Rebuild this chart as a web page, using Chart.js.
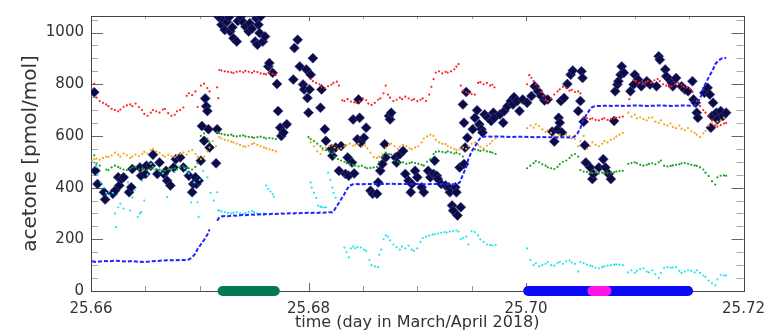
<!DOCTYPE html>
<html>
<head>
<meta charset="utf-8">
<script src="https://cdn.jsdelivr.net/npm/chart.js@4"></script>
<style>
  body { margin: 0; background: #fff; }
  canvas { display: block; }
</style>
</head>
<body>
<canvas id="acetoneChart" width="774" height="332"></canvas>
<script>
// acetone mixing ratios [time (day), pmol/mol]
const acetonePtr = [
  [25.6603, 769], [25.6604, 465], [25.6606, 414], [25.6612, 382], [25.6613, 354], [25.6620, 376], [25.6622, 388],
  [25.6625, 440], [25.6626, 408], [25.6628, 433], [25.6630, 440], [25.6635, 382], [25.6637, 401], [25.6638, 472],
  [25.6646, 446], [25.6645, 478], [25.6650, 453], [25.6651, 485], [25.6655, 485], [25.6657, 527], [25.6661, 453],
  [25.6663, 497], [25.6667, 453], [25.6669, 465], [25.6670, 427], [25.6673, 408], [25.6676, 478], [25.6678, 510],
  [25.6682, 517], [25.6685, 478], [25.6690, 446], [25.6693, 382], [25.6694, 414], [25.6696, 440], [25.6697, 414],
  [25.6699, 427], [25.6701, 504], [25.6702, 638], [25.6704, 581], [25.6705, 745], [25.6706, 715], [25.6707, 696],
  [25.6708, 626], [25.6709, 555], [25.6716, 626], [25.6715, 494],
  [25.6717, 1062], [25.6719, 1055], [25.6720, 1030], [25.6722, 1048], [25.6723, 1010], [25.6725, 1042], [25.6727, 1060],
  [25.6728, 1004], [25.6730, 1020], [25.6731, 978], [25.6734, 965], [25.6735, 1045], [25.6738, 1062], [25.6740, 1040],
  [25.6742, 1023], [25.6745, 1004], [25.6746, 1036], [25.6748, 1015], [25.6751, 965], [25.6752, 1055], [25.6753, 953],
  [25.6754, 1030], [25.6755, 998], [25.6756, 1062], [25.6758, 965], [25.6760, 985], [25.6763, 869], [25.6764, 882],
  [25.6767, 844], [25.6771, 801], [25.6772, 696], [25.6774, 632], [25.6775, 600], [25.6777, 613], [25.6780, 645],
  [25.6786, 818], [25.6787, 940], [25.6790, 972], [25.6792, 869], [25.6795, 799], [25.6796, 780], [25.6798, 857],
  [25.6799, 747], [25.6801, 780], [25.6800, 690], [25.6802, 837], [25.6804, 901],
  [25.6811, 709], [25.6812, 780], [25.6815, 626], [25.6816, 581], [25.6821, 549], [25.6822, 523], [25.6825, 555],
  [25.6828, 465], [25.6830, 561], [25.6834, 453], [25.6836, 517], [25.6837, 446], [25.6840, 497], [25.6841, 664],
  [25.6842, 455], [25.6845, 587], [25.6846, 741], [25.6847, 670], [25.6848, 574], [25.6851, 593], [25.6853, 632],
  [25.6857, 388], [25.6859, 376], [25.6863, 376], [25.6864, 420], [25.6866, 465], [25.6868, 491], [25.6871, 517],
  [25.6870, 568], [25.6874, 677], [25.6875, 664], [25.6876, 690], [25.6880, 517], [25.6881, 497], [25.6884, 529],
  [25.6887, 542], [25.6889, 453], [25.6892, 427], [25.6894, 382], [25.6895, 414], [25.6898, 465],
  [25.6900, 440], [25.6904, 401], [25.6906, 382], [25.6910, 465], [25.6912, 440], [25.6915, 453], [25.6916, 504],
  [25.6918, 446], [25.6919, 433], [25.6922, 414], [25.6926, 408], [25.6929, 401], [25.6930, 382], [25.6932, 331],
  [25.6933, 311], [25.6935, 401], [25.6936, 382], [25.6937, 292], [25.6939, 478], [25.6940, 324], [25.6942, 722],
  [25.6943, 651], [25.6944, 555], [25.6943, 491], [25.6945, 770], [25.6946, 593], [25.6951, 626], [25.6953, 670],
  [25.6955, 699], [25.6957, 645], [25.6959, 626], [25.6960, 613], [25.6962, 683], [25.6965, 670], [25.6968, 658],
  [25.6970, 690], [25.6971, 670], [25.6976, 683], [25.6979, 651], [25.6980, 696], [25.6983, 715], [25.6986, 735],
  [25.6988, 722], [25.6989, 750], [25.6992, 735], [25.6994, 696], [25.6997, 741],
  [25.7001, 728], [25.7005, 754], [25.7008, 792], [25.7011, 773], [25.7014, 754], [25.7017, 737], [25.7020, 741],
  [25.7024, 617], [25.7026, 578], [25.7029, 626], [25.7030, 670], [25.7032, 735], [25.7031, 651], [25.7033, 613],
  [25.7035, 747], [25.7038, 801], [25.7041, 837], [25.7043, 853], [25.7048, 696], [25.7050, 735], [25.7051, 850],
  [25.7052, 824], [25.7053, 655], [25.7054, 564], [25.7055, 497], [25.7059, 478], [25.7061, 433], [25.7062, 453],
  [25.7067, 478], [25.7071, 510], [25.7073, 478], [25.7076, 453], [25.7078, 433], [25.7081, 658], [25.7082, 773],
  [25.7084, 799], [25.7085, 812], [25.7087, 837], [25.7088, 869], [25.7090, 844], [25.7096, 773], [25.7099, 799],
  [25.7100, 837], [25.7103, 818], [25.7106, 792], [25.7111, 812], [25.7114, 799], [25.7120, 792], [25.7122, 908],
  [25.7123, 895], [25.7128, 857], [25.7129, 831], [25.7132, 818], [25.7134, 805], [25.7135, 792], [25.7138, 824],
  [25.7143, 792], [25.7146, 780], [25.7149, 773], [25.7153, 812], [25.7154, 741], [25.7156, 728], [25.7157, 690],
  [25.7158, 670], [25.7164, 767], [25.7167, 786], [25.7169, 760], [25.7170, 632], [25.7172, 728], [25.7171, 677],
  [25.7175, 690], [25.7176, 664], [25.7179, 696], [25.7181, 677], [25.7184, 690]
];

const acetoneRed = [
  [25.6603, 801], [25.6605, 748], [25.6608, 735], [25.6611, 728], [25.6614, 722], [25.6616, 715], [25.6619, 705],
  [25.6622, 700], [25.6625, 695], [25.6627, 702], [25.6630, 712], [25.6633, 718], [25.6636, 722], [25.6638, 715],
  [25.6641, 725], [25.6644, 712], [25.6647, 700], [25.6649, 685], [25.6652, 678], [25.6655, 690], [25.6657, 700],
  [25.6660, 695], [25.6663, 690], [25.6666, 702], [25.6668, 705], [25.6671, 688], [25.6674, 678], [25.6677, 682],
  [25.6679, 695], [25.6682, 700], [25.6685, 710], [25.6688, 755], [25.6690, 765], [25.6693, 758], [25.6696, 772],
  [25.6698, 712], [25.6701, 795], [25.6704, 802], [25.6707, 785], [25.6709, 772], [25.6716, 788], [25.6717, 746],
  [25.6718, 855], [25.6720, 853], [25.6723, 850], [25.6726, 848], [25.6729, 846], [25.6731, 843], [25.6734, 848],
  [25.6737, 850], [25.6740, 846], [25.6742, 852], [25.6745, 848], [25.6748, 844], [25.6750, 850], [25.6753, 847],
  [25.6756, 842], [25.6759, 840], [25.6761, 838], [25.6764, 845], [25.6767, 840], [25.6770, 836],
  [25.6802, 820], [25.6804, 812], [25.6807, 805], [25.6810, 800], [25.6812, 790], [25.6815, 785], [25.6818, 792],
  [25.6821, 798], [25.6823, 805], [25.6826, 810], [25.6828, 795], [25.6831, 738], [25.6833, 735], [25.6836, 742],
  [25.6839, 733], [25.6842, 730], [25.6844, 728], [25.6847, 735], [25.6850, 745], [25.6853, 738], [25.6855, 725],
  [25.6858, 720], [25.6861, 728], [25.6864, 740], [25.6866, 745], [25.6869, 765], [25.6871, 795], [25.6873, 760],
  [25.6875, 748], [25.6878, 735], [25.6881, 740], [25.6884, 748], [25.6886, 742], [25.6889, 752], [25.6892, 745],
  [25.6895, 738], [25.6897, 742], [25.6900, 735], [25.6903, 740], [25.6905, 745], [25.6908, 735], [25.6911, 760],
  [25.6913, 790], [25.6915, 820], [25.6917, 845], [25.6920, 850], [25.6923, 842], [25.6926, 848], [25.6928, 845],
  [25.6931, 850], [25.6934, 858], [25.6936, 868], [25.6938, 878], [25.6940, 795], [25.6942, 775], [25.6945, 770],
  [25.6947, 765], [25.6950, 762], [25.6953, 760], [25.6956, 805], [25.6958, 808], [25.6961, 800], [25.6964, 805],
  [25.6967, 795], [25.6969, 798], [25.6971, 788],
  [25.7001, 800], [25.7003, 835], [25.7005, 825], [25.7007, 812], [25.7009, 800], [25.7012, 785], [25.7014, 770],
  [25.7016, 755], [25.7018, 740], [25.7020, 735], [25.7023, 745], [25.7026, 760], [25.7029, 772], [25.7031, 780],
  [25.7034, 790], [25.7037, 785], [25.7040, 775], [25.7042, 778], [25.7045, 770], [25.7048, 772], [25.7050, 765],
  [25.7053, 672], [25.7056, 668], [25.7059, 665], [25.7061, 668], [25.7064, 662], [25.7067, 660], [25.7070, 665],
  [25.7072, 668], [25.7075, 662], [25.7078, 665], [25.7081, 668], [25.7083, 670], [25.7086, 672], [25.7089, 675],
  [25.7095, 742], [25.7099, 815], [25.7101, 812], [25.7104, 805], [25.7107, 800], [25.7110, 808], [25.7112, 812],
  [25.7115, 805], [25.7118, 815], [25.7121, 820], [25.7123, 812], [25.7126, 800], [25.7129, 795], [25.7132, 790],
  [25.7134, 792], [25.7137, 800], [25.7140, 805], [25.7143, 798], [25.7145, 790], [25.7148, 788], [25.7151, 782],
  [25.7153, 770], [25.7157, 735], [25.7160, 715], [25.7163, 700], [25.7165, 690], [25.7168, 680], [25.7171, 660],
  [25.7174, 640], [25.7176, 636], [25.7179, 642], [25.7182, 648], [25.7184, 650]
];

const acetoneOrange = [
  [25.6601, 505], [25.6603, 510], [25.6605, 512], [25.6608, 508], [25.6611, 515], [25.6614, 520], [25.6616, 518],
  [25.6619, 525], [25.6622, 535], [25.6625, 528], [25.6627, 520], [25.6630, 532], [25.6633, 525], [25.6636, 515],
  [25.6638, 520], [25.6641, 528], [25.6644, 522], [25.6647, 530], [25.6649, 538], [25.6652, 532], [25.6655, 545],
  [25.6657, 550], [25.6660, 540], [25.6663, 535], [25.6666, 525], [25.6668, 520], [25.6671, 528], [25.6674, 522],
  [25.6677, 518], [25.6679, 525], [25.6682, 530], [25.6685, 535], [25.6688, 528], [25.6690, 540], [25.6693, 545],
  [25.6696, 530], [25.6698, 520], [25.6701, 510], [25.6704, 520], [25.6707, 540], [25.6709, 555], [25.6712, 580],
  [25.6715, 560],
  [25.6718, 595], [25.6720, 590], [25.6723, 585], [25.6726, 582], [25.6729, 578], [25.6731, 575], [25.6734, 570],
  [25.6737, 565], [25.6740, 560], [25.6742, 558], [25.6745, 562], [25.6748, 568], [25.6750, 572], [25.6753, 565],
  [25.6756, 560], [25.6759, 555], [25.6761, 552], [25.6764, 548], [25.6767, 545], [25.6770, 540],
  [25.6802, 575], [25.6805, 560], [25.6808, 540], [25.6811, 530], [25.6813, 545], [25.6816, 555], [25.6819, 560],
  [25.6822, 565], [25.6824, 555], [25.6827, 548], [25.6830, 552], [25.6833, 560], [25.6835, 565], [25.6838, 570],
  [25.6841, 562], [25.6843, 566], [25.6846, 570], [25.6849, 558], [25.6852, 562], [25.6854, 552], [25.6857, 535],
  [25.6860, 518], [25.6863, 515], [25.6865, 520], [25.6868, 530], [25.6871, 555], [25.6874, 565], [25.6876, 570],
  [25.6879, 560], [25.6882, 550], [25.6884, 558], [25.6887, 565], [25.6890, 560], [25.6893, 552], [25.6895, 548],
  [25.6898, 555],
  [25.6901, 560], [25.6904, 575], [25.6906, 590], [25.6909, 598], [25.6912, 605], [25.6915, 600], [25.6917, 585],
  [25.6920, 575], [25.6923, 570], [25.6926, 568], [25.6928, 560], [25.6931, 555], [25.6934, 550], [25.6936, 545],
  [25.6939, 548], [25.6942, 555], [25.6945, 550], [25.6947, 560], [25.6950, 570], [25.6953, 575], [25.6956, 565],
  [25.6958, 558], [25.6961, 552], [25.6964, 562], [25.6967, 570], [25.6969, 580], [25.6972, 590],
  [25.7001, 630], [25.7004, 640], [25.7007, 632], [25.7009, 645], [25.7012, 638], [25.7015, 625], [25.7018, 615],
  [25.7020, 622], [25.7023, 612], [25.7026, 600], [25.7029, 595], [25.7031, 605], [25.7034, 598], [25.7037, 605],
  [25.7040, 600], [25.7042, 590], [25.7045, 588], [25.7048, 560], [25.7050, 580], [25.7053, 600], [25.7056, 550],
  [25.7059, 560], [25.7061, 575], [25.7064, 565], [25.7067, 560], [25.7070, 570], [25.7072, 580], [25.7075, 575],
  [25.7078, 585], [25.7081, 590], [25.7083, 598], [25.7086, 605], [25.7089, 612],
  [25.7094, 690], [25.7097, 675], [25.7100, 682], [25.7102, 668], [25.7105, 672], [25.7108, 665], [25.7111, 660],
  [25.7113, 670], [25.7116, 672], [25.7119, 655], [25.7122, 650], [25.7124, 660], [25.7127, 645], [25.7130, 640],
  [25.7133, 648], [25.7135, 635], [25.7138, 630], [25.7141, 640], [25.7143, 628], [25.7146, 622], [25.7149, 630],
  [25.7152, 618], [25.7155, 612], [25.7157, 605], [25.7160, 595], [25.7163, 610], [25.7165, 620], [25.7168, 640],
  [25.7171, 650], [25.7174, 645], [25.7176, 655], [25.7179, 660], [25.7182, 670]
];

const acetoneGreen = [
  [25.6603, 525], [25.6605, 490], [25.6608, 485], [25.6614, 470], [25.6616, 468], [25.6619, 478], [25.6622, 485],
  [25.6625, 480], [25.6627, 475], [25.6630, 470], [25.6633, 468], [25.6636, 472], [25.6638, 478], [25.6641, 480],
  [25.6644, 470], [25.6647, 475], [25.6649, 470], [25.6652, 468], [25.6655, 475], [25.6657, 480], [25.6660, 472],
  [25.6663, 470], [25.6666, 468], [25.6668, 465], [25.6671, 470], [25.6674, 472], [25.6677, 475], [25.6679, 470],
  [25.6682, 478], [25.6685, 482], [25.6688, 478], [25.6690, 475], [25.6693, 470], [25.6696, 480], [25.6698, 495],
  [25.6701, 600], [25.6704, 610], [25.6707, 590], [25.6709, 575],
  [25.6716, 615], [25.6718, 610], [25.6720, 608], [25.6723, 605], [25.6726, 603], [25.6729, 605], [25.6731, 600],
  [25.6734, 598], [25.6737, 600], [25.6740, 602], [25.6742, 598], [25.6745, 596], [25.6748, 595], [25.6750, 593],
  [25.6753, 595], [25.6756, 597], [25.6759, 594], [25.6761, 590], [25.6764, 592], [25.6767, 590], [25.6770, 588],
  [25.6800, 595], [25.6802, 588], [25.6805, 580], [25.6808, 570], [25.6811, 560], [25.6813, 552], [25.6816, 545],
  [25.6819, 540], [25.6822, 532], [25.6824, 520], [25.6827, 510], [25.6830, 505], [25.6833, 500], [25.6835, 495],
  [25.6838, 492], [25.6841, 488], [25.6843, 485], [25.6846, 482], [25.6849, 485], [25.6852, 478], [25.6854, 475],
  [25.6857, 476], [25.6860, 478], [25.6863, 480], [25.6865, 500], [25.6868, 520], [25.6871, 535], [25.6874, 530],
  [25.6876, 528], [25.6879, 505], [25.6882, 500], [25.6884, 495], [25.6887, 498], [25.6890, 492], [25.6893, 495],
  [25.6895, 498], [25.6898, 495], [25.6901, 492], [25.6904, 488], [25.6906, 485],
  [25.6909, 500], [25.6912, 510], [25.6915, 530], [25.6917, 538], [25.6920, 540], [25.6923, 538], [25.6926, 535],
  [25.6928, 540], [25.6931, 536], [25.6934, 532], [25.6936, 535], [25.6939, 530], [25.6942, 520], [25.6953, 548],
  [25.6956, 545], [25.6958, 542], [25.6961, 545], [25.6964, 540], [25.6967, 538], [25.6969, 535], [25.6972, 530],
  [25.7001, 475], [25.7004, 485], [25.7007, 495], [25.7009, 503], [25.7012, 498], [25.7015, 490], [25.7018, 485],
  [25.7020, 478], [25.7023, 475], [25.7026, 472], [25.7029, 480], [25.7031, 490], [25.7034, 500], [25.7037, 505],
  [25.7040, 515], [25.7042, 525], [25.7045, 530], [25.7048, 520], [25.7050, 468], [25.7053, 462], [25.7056, 460],
  [25.7059, 458], [25.7061, 456], [25.7064, 458], [25.7067, 455], [25.7070, 458], [25.7072, 457], [25.7075, 456],
  [25.7078, 458], [25.7081, 460], [25.7083, 462], [25.7086, 464], [25.7089, 465],
  [25.7094, 492], [25.7097, 495], [25.7100, 498], [25.7102, 494], [25.7105, 488], [25.7108, 485], [25.7111, 488],
  [25.7113, 492], [25.7116, 494], [25.7119, 490], [25.7122, 498], [25.7124, 505], [25.7127, 485], [25.7130, 482],
  [25.7133, 484], [25.7135, 486], [25.7138, 488], [25.7141, 490], [25.7143, 494], [25.7146, 495], [25.7149, 492],
  [25.7152, 488], [25.7155, 486], [25.7157, 484], [25.7160, 478], [25.7163, 470], [25.7165, 458], [25.7168, 445],
  [25.7171, 425], [25.7174, 412], [25.7176, 440], [25.7179, 446], [25.7182, 447], [25.7184, 446]
];

const acetoneCyan = [
  [25.6603, 497], [25.6605, 480], [25.6606, 450], [25.6609, 420], [25.6612, 400], [25.6614, 380], [25.6617, 370],
  [25.6620, 380], [25.6622, 300], [25.6623, 247], [25.6625, 324], [25.6627, 338], [25.6630, 319], [25.6634, 420],
  [25.6636, 311], [25.6638, 362], [25.6640, 390], [25.6643, 286], [25.6645, 300], [25.6646, 305], [25.6647, 427],
  [25.6649, 350], [25.6652, 450], [25.6655, 492], [25.6658, 470], [25.6663, 465], [25.6666, 455], [25.6670, 363],
  [25.6674, 470], [25.6677, 460], [25.6681, 480], [25.6686, 475], [25.6688, 465], [25.6690, 455], [25.6692, 343],
  [25.6695, 420], [25.6698, 343], [25.6699, 286], [25.6700, 430], [25.6703, 465], [25.6707, 440], [25.6710, 380],
  [25.6713, 350], [25.6716, 382], [25.6717, 311],
  [25.6718, 312], [25.6720, 308], [25.6723, 305], [25.6726, 302], [25.6729, 300], [25.6731, 303], [25.6734, 305],
  [25.6737, 300], [25.6740, 298], [25.6742, 302], [25.6745, 306], [25.6748, 310], [25.6750, 305], [25.6753, 300],
  [25.6756, 296], [25.6759, 300], [25.6761, 408], [25.6763, 395], [25.6765, 385], [25.6767, 375], [25.6768, 365],
  [25.6802, 420], [25.6803, 400], [25.6805, 380], [25.6807, 360], [25.6809, 330], [25.6811, 326], [25.6812, 325],
  [25.6814, 323], [25.6816, 324], [25.6818, 458], [25.6820, 430], [25.6822, 400], [25.6823, 380], [25.6825, 360],
  [25.6833, 168], [25.6835, 150], [25.6837, 130], [25.6839, 165], [25.6841, 172], [25.6843, 165], [25.6845, 170],
  [25.6848, 168], [25.6851, 160], [25.6853, 155], [25.6856, 120], [25.6858, 100], [25.6861, 95], [25.6864, 92],
  [25.6865, 140], [25.6867, 160], [25.6869, 200], [25.6871, 215], [25.6873, 210], [25.6875, 196], [25.6878, 180],
  [25.6881, 170], [25.6884, 160], [25.6886, 172], [25.6889, 165], [25.6892, 175], [25.6895, 160], [25.6897, 155],
  [25.6900, 165], [25.6903, 190], [25.6905, 205], [25.6908, 210], [25.6911, 214], [25.6914, 218], [25.6916, 220],
  [25.6919, 222], [25.6922, 225], [25.6925, 228], [25.6927, 226], [25.6930, 230], [25.6933, 232], [25.6936, 234],
  [25.6938, 230], [25.6940, 200], [25.6942, 205], [25.6945, 210], [25.6947, 180], [25.6950, 232], [25.6953, 228],
  [25.6956, 215], [25.6958, 200], [25.6961, 190], [25.6964, 180], [25.6967, 178], [25.6969, 176], [25.6972, 178],
  [25.7001, 165], [25.7004, 120], [25.7007, 100], [25.7009, 108], [25.7012, 95], [25.7015, 100], [25.7018, 105],
  [25.7020, 112], [25.7023, 100], [25.7026, 98], [25.7029, 108], [25.7031, 112], [25.7034, 105], [25.7037, 115],
  [25.7040, 118], [25.7042, 110], [25.7045, 105], [25.7048, 75], [25.7050, 112], [25.7053, 108], [25.7056, 102],
  [25.7059, 98], [25.7061, 95], [25.7064, 90], [25.7067, 88], [25.7070, 92], [25.7072, 95], [25.7075, 98],
  [25.7078, 100], [25.7081, 102], [25.7083, 103], [25.7086, 102], [25.7089, 100],
  [25.7094, 72], [25.7097, 80], [25.7100, 70], [25.7102, 78], [25.7105, 85], [25.7108, 88], [25.7111, 75],
  [25.7113, 72], [25.7116, 80], [25.7119, 65], [25.7122, 50], [25.7124, 70], [25.7127, 90], [25.7130, 92],
  [25.7133, 90], [25.7135, 91], [25.7138, 92], [25.7141, 78], [25.7143, 70], [25.7146, 75], [25.7149, 80],
  [25.7152, 78], [25.7155, 72], [25.7157, 80], [25.7160, 70], [25.7163, 60], [25.7165, 55], [25.7168, 40],
  [25.7171, 30], [25.7174, 22], [25.7176, 45], [25.7179, 62], [25.7182, 60], [25.7184, 60]
];

// stepped reference level, null = gap in the record
const acetoneBlue = [
  [25.6601, 115], [25.6605, 112], [25.6611, 116], [25.6616, 115], [25.6622, 117], [25.6627, 116], [25.6633, 114],
  [25.6638, 116], [25.6644, 113], [25.6649, 112], [25.6655, 115], [25.6660, 116], [25.6666, 118], [25.6671, 119],
  [25.6677, 119], [25.6682, 120], [25.6688, 120], [25.6690, 122], [25.6693, 130], [25.6696, 145], [25.6698, 162],
  [25.6701, 180], [25.6704, 198], [25.6707, 218], [25.6709, 238], [25.6712, null],
  [25.6716, 272], [25.6718, 285], [25.6720, 288], [25.6723, 290], [25.6726, 289], [25.6729, 291], [25.6731, 292],
  [25.6734, 291], [25.6737, 293], [25.6740, 294], [25.6742, 293], [25.6745, 295], [25.6748, 296], [25.6750, 295],
  [25.6753, 296], [25.6756, 297], [25.6759, 296], [25.6761, 298], [25.6764, 297], [25.6767, 299], [25.6770, 298],
  [25.6772, 299], [25.6775, 300], [25.6778, 299], [25.6781, 300], [25.6783, 301], [25.6786, 300], [25.6789, 302],
  [25.6791, 301], [25.6794, 302], [25.6797, 302], [25.6800, 303], [25.6802, 302], [25.6805, 303], [25.6808, 302],
  [25.6811, 304], [25.6813, 303], [25.6816, 304], [25.6819, 305], [25.6822, 305], [25.6824, 315], [25.6827, 335],
  [25.6830, 355], [25.6833, 375], [25.6835, 392], [25.6838, 408], [25.6841, 413], [25.6843, 414], [25.6849, 413],
  [25.6854, 414], [25.6860, 414], [25.6865, 414], [25.6871, 414], [25.6876, 415], [25.6882, 414], [25.6887, 414],
  [25.6893, 414], [25.6898, 414], [25.6904, 413], [25.6909, 413], [25.6915, 414], [25.6920, 414], [25.6926, 413],
  [25.6931, 413], [25.6936, 413], [25.6939, 420], [25.6942, 450], [25.6945, 480], [25.6947, 510], [25.6950, 540],
  [25.6953, 560], [25.6956, 580], [25.6958, 592], [25.6961, 597], [25.6964, 598], [25.6969, 597], [25.6975, 598],
  [25.6980, 597], [25.6986, 596], [25.6991, 597], [25.6997, 597], [25.7002, 596], [25.7008, 595], [25.7013, 596],
  [25.7019, 595], [25.7024, 595], [25.7029, 594], [25.7035, 595], [25.7040, 594], [25.7044, 596], [25.7047, 607],
  [25.7050, 630], [25.7052, 655], [25.7055, 678], [25.7058, 698], [25.7060, 710], [25.7063, 715], [25.7069, 716],
  [25.7074, 717], [25.7080, 716], [25.7085, 717], [25.7091, 716], [25.7096, 717], [25.7101, 718], [25.7107, 717],
  [25.7112, 716], [25.7118, 717], [25.7123, 718], [25.7129, 717], [25.7134, 716], [25.7140, 717], [25.7145, 718],
  [25.7151, 717], [25.7155, 718], [25.7158, 730], [25.7161, 755], [25.7163, 785], [25.7166, 810], [25.7169, 835],
  [25.7172, 858], [25.7174, 878], [25.7177, 892], [25.7180, 900], [25.7183, 902], [25.7184, 900]
];

// time intervals marked along the time axis [start, end]
const spanGreen = [25.6721, 25.6769];
const spanBlue = [25.7002, 25.7149];
const spanMagenta = [25.7061, 25.7074];

const xTicks = [25.66, 25.68, 25.70, 25.72];
const yTicks = [0, 200, 400, 600, 800, 1000];

const toPoints = arr => arr.map(p => ({ x: p[0], y: p[1] }));
const spanPoints = s => [{ x: s[0], y: 0 }, { x: s[1], y: 0 }];

function dots(data, color) {
  return {
    data: toPoints(data),
    pointRadius: 1.1,
    pointBorderWidth: 0,
    pointBackgroundColor: color,
    showLine: false
  };
}

function span(s, color) {
  return {
    data: spanPoints(s),
    showLine: true,
    borderColor: color,
    borderWidth: 10,
    borderCapStyle: 'round',
    pointRadius: 0,
    clip: false
  };
}

// inward ticks on all four sides plus the box
const frameTicks = {
  id: 'frameTicks',
  beforeDatasetsDraw(chart) {
    const { ctx, chartArea: a, scales } = chart;
    const xs = scales.x, ys = scales.y;
    ctx.save();
    ctx.lineWidth = 1;
    for (let i = 0; i <= 12; i++) {
      const v = 25.66 + i * 0.005;
      const px = Math.round(xs.getPixelForValue(v)) + 0.5;
      const major = i % 4 === 0;
      ctx.strokeStyle = major ? '#666' : '#999';
      const len = major ? 8 : 5;
      ctx.beginPath();
      ctx.moveTo(px, a.bottom);
      ctx.lineTo(px, a.bottom - len);
      ctx.moveTo(px, a.top);
      ctx.lineTo(px, a.top + (major ? 5 : 3));
      ctx.stroke();
    }
    for (let v = 0; v <= 1050; v += 50) {
      const py = Math.round(ys.getPixelForValue(v)) + 0.5;
      const major = v % 200 === 0;
      ctx.strokeStyle = major ? '#666' : '#aaa';
      const len = major ? 12 : 7;
      ctx.beginPath();
      ctx.moveTo(a.left, py);
      ctx.lineTo(a.left + len, py);
      ctx.moveTo(a.right, py);
      ctx.lineTo(a.right - len, py);
      ctx.stroke();
    }
    ctx.strokeStyle = '#444';
    ctx.strokeRect(Math.round(a.left) + 0.5, Math.round(a.top) + 0.5,
      Math.round(a.right - a.left), Math.round(a.bottom - a.top));
    ctx.restore();
  }
};

const fontFamily = "'DejaVu Sans', sans-serif";

new Chart(document.getElementById('acetoneChart'), {
  type: 'scatter',
  data: {
    datasets: [
      span(spanMagenta, '#ff14e6'),
      span(spanBlue, '#0a0af0'),
      span(spanGreen, '#037a4f'),
      {
        data: toPoints(acetoneBlue),
        showLine: true,
        spanGaps: false,
        borderColor: '#2222ff',
        borderWidth: 2,
        borderDash: [4, 2],
        pointRadius: 0
      },
      dots(acetoneRed, '#ff2020'),
      dots(acetoneOrange, '#f7a21c'),
      dots(acetoneGreen, '#1c9e1c'),
      dots(acetoneCyan, '#22e4f0'),
      {
        data: toPoints(acetonePtr),
        pointStyle: 'rectRot',
        pointRadius: 5,
        pointBackgroundColor: '#0b0b48',
        pointBorderColor: 'rgba(70,70,140,0.6)',
        pointBorderWidth: 1,
        showLine: false
      }
    ]
  },
  options: {
    responsive: false,
    animation: false,
    events: [],
    devicePixelRatio: 1,
    layout: { padding: { top: 14, right: 25, left: 0, bottom: 0 } },
    plugins: {
      legend: { display: false },
      tooltip: { enabled: false }
    },
    scales: {
      x: {
        type: 'linear',
        min: 25.66,
        max: 25.72,
        grid: { display: false, drawTicks: false },
        border: { display: false },
        afterBuildTicks: s => { s.ticks = xTicks.map(v => ({ value: v })); },
        afterFit: s => { s.height = 41; },
        ticks: {
          callback: v => Number(v).toFixed(2),
          color: '#333',
          padding: 9,
          maxRotation: 0,
          autoSkip: false,
          font: { family: fontFamily, size: 15 }
        },
        title: {
          display: true,
          text: 'time (day in March/April 2018)',
          color: '#333',
          padding: { top: 0, bottom: 0 },
          font: { family: fontFamily, size: 16 }
        }
      },
      y: {
        min: 0,
        max: 1064,
        grid: { display: false, drawTicks: false },
        border: { display: false },
        afterBuildTicks: s => { s.ticks = yTicks.map(v => ({ value: v })); },
        afterFit: s => { s.width = 91; },
        ticks: {
          callback: v => String(v),
          color: '#333',
          padding: 7,
          font: { family: fontFamily, size: 15 }
        },
        title: {
          display: true,
          text: 'acetone [pmol/mol]',
          color: '#333',
          padding: { top: 19, bottom: 0 },
          font: { family: fontFamily, size: 20 }
        }
      }
    }
  },
  plugins: [frameTicks]
});
</script>
</body>
</html>
